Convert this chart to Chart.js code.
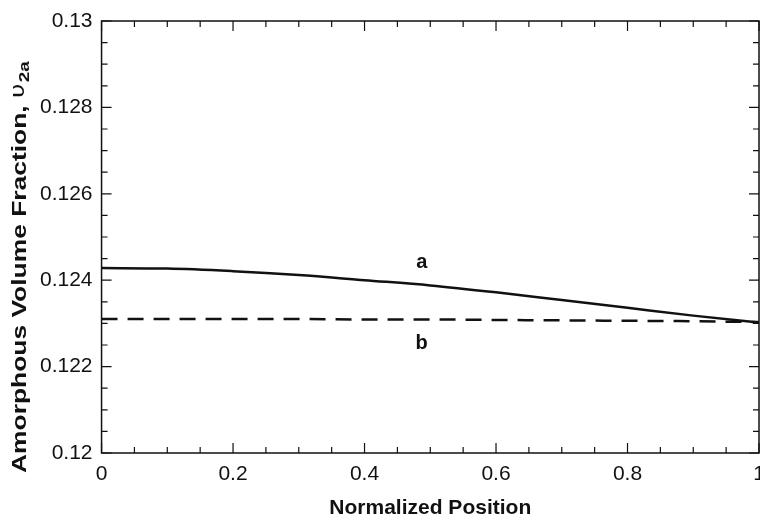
<!DOCTYPE html>
<html>
<head>
<meta charset="utf-8">
<script src="https://cdn.jsdelivr.net/npm/chart.js@4/dist/chart.umd.min.js"></script>
<style>
  body { margin: 0; background: #fff; }
  #wrap { width: 760px; height: 516px; }
</style>
</head>
<body>
<div id="wrap"><canvas id="chart"></canvas></div>
<script>
// normalized position along the sample
const positions = [0, 0.1, 0.2, 0.3, 0.4, 0.5, 0.6, 0.7, 0.8, 0.9, 1.0]
// curve a (solid) and curve b (dashed)
const curveA = [0.12428, 0.12427, 0.12421, 0.12412, 0.12400, 0.12388, 0.12372, 0.12354, 0.12336, 0.12318, 0.12302]
const curveB = [0.12310, 0.12310, 0.12310, 0.12310, 0.12309, 0.12309, 0.12308, 0.12307, 0.12306, 0.12305, 0.12303]

const xTicks = [0, 0.2, 0.4, 0.6, 0.8, 1]
const xTickLabels = ['0', '0.2', '0.4', '0.6', '0.8', '1']
const yTicks = [0.12, 0.122, 0.124, 0.126, 0.128, 0.13]
const yTickLabels = ['0.12', '0.122', '0.124', '0.126', '0.128', '0.13']

// curve labels placed in data space
const curveLabels = [
    { text: 'a', x: 0.487, y: 0.12440 },
    { text: 'b', x: 0.487, y: 0.12253 }
]

const FONT = '"Liberation Sans", Arial, Helvetica, sans-serif'

// frame, inward ticks, curve letters and y title with subscript
const framePlugin = {
    id: 'frame',
    afterDatasetsDraw(chart) {
        const { ctx, chartArea: a, scales } = chart
        const xs = scales.x, ys = scales.y
        ctx.save()
        ctx.strokeStyle = '#111'
        ctx.lineWidth = 1.5
        ctx.strokeRect(a.left, a.top, a.right - a.left, a.bottom - a.top)

        ctx.lineWidth = 1.2
        ctx.beginPath()
        for (let i = 0; i <= 20; i++) {
            const v = i * 0.05
            const px = xs.getPixelForValue(v)
            const len = i % 4 === 0 ? 10 : 6
            ctx.moveTo(px, a.bottom); ctx.lineTo(px, a.bottom - len)
            ctx.moveTo(px, a.top); ctx.lineTo(px, a.top + len)
        }
        for (let i = 0; i <= 20; i++) {
            const v = 0.12 + i * 0.0005
            const py = ys.getPixelForValue(v)
            const len = i % 4 === 0 ? 10 : 6
            ctx.moveTo(a.left, py); ctx.lineTo(a.left + len, py)
            ctx.moveTo(a.right, py); ctx.lineTo(a.right - len, py)
        }
        ctx.stroke()

        ctx.fillStyle = '#111'
        ctx.font = 'bold 20px ' + FONT
        ctx.textAlign = 'center'
        ctx.textBaseline = 'middle'
        curveLabels.forEach(l => {
            ctx.fillText(l.text, xs.getPixelForValue(l.x), ys.getPixelForValue(l.y))
        })

        // y axis title
        ctx.translate(20, 473)
        ctx.rotate(-Math.PI / 2)
        ctx.textAlign = 'left'
        ctx.textBaseline = 'middle'
        ctx.font = 'bold 21px ' + FONT
        const main = 'Amorphous Volume Fraction, '
        const w = ctx.measureText(main).width
        const sx = 375 / w
        ctx.scale(sx, 1)
        ctx.fillText(main, 0, 0)
        ctx.font = '20px "DejaVu Sans", sans-serif'
        ctx.fillText('\u03C5', w, -1)
        const w2 = ctx.measureText('\u03C5').width
        ctx.font = 'bold 15px ' + FONT
        ctx.fillText('2a', w + w2 + 1, 5)
        ctx.restore()
    }
}

new Chart(document.getElementById('chart').getContext('2d'), {
    type: 'line',
    data: {
        labels: positions,
        datasets: [
            {
                label: 'a',
                data: positions.map((x, i) => ({ x: x, y: curveA[i] })),
                borderColor: '#111',
                borderWidth: 2.5,
                pointRadius: 0,
                cubicInterpolationMode: 'monotone'
            },
            {
                label: 'b',
                data: positions.map((x, i) => ({ x: x, y: curveB[i] })),
                borderColor: '#111',
                borderWidth: 2.5,
                borderDash: [16, 10],
                pointRadius: 0,
                cubicInterpolationMode: 'monotone'
            }
        ]
    },
    options: {
        responsive: true,
        maintainAspectRatio: false,
        animation: false,
        layout: { padding: { left: 31, right: 1, top: 21, bottom: -3 } },
        plugins: { legend: { display: false }, tooltip: { enabled: false } },
        scales: {
            x: {
                type: 'linear',
                min: 0,
                max: 1,
                afterBuildTicks: s => { s.ticks = xTicks.map(v => ({ value: v })) },
                afterFit: s => { s.paddingLeft = 0; s.paddingRight = 0 },
                grid: { display: false, drawTicks: false },
                border: { display: false },
                ticks: {
                    padding: 11,
                    maxRotation: 0,
                    color: '#111',
                    font: { family: FONT, size: 21, lineHeight: 1 },
                    callback: v => xTickLabels[xTicks.indexOf(v)]
                },
                title: {
                    display: true,
                    text: 'Normalized Position',
                    color: '#111',
                    padding: { top: 2, bottom: 0 },
                    font: { family: FONT, size: 21, weight: 'bold', lineHeight: 1 }
                }
            },
            y: {
                type: 'linear',
                min: 0.12,
                max: 0.13,
                afterBuildTicks: s => { s.ticks = yTicks.map(v => ({ value: v })) },
                afterFit: s => { s.paddingTop = 0; s.paddingBottom = 0 },
                grid: { display: false, drawTicks: false },
                border: { display: false },
                ticks: {
                    padding: 9,
                    color: '#111',
                    font: { family: FONT, size: 21 },
                    callback: v => yTickLabels[yTicks.findIndex(t => Math.abs(t - v) < 1e-9)]
                }
            }
        }
    },
    plugins: [framePlugin]
});
</script>
</body>
</html>
